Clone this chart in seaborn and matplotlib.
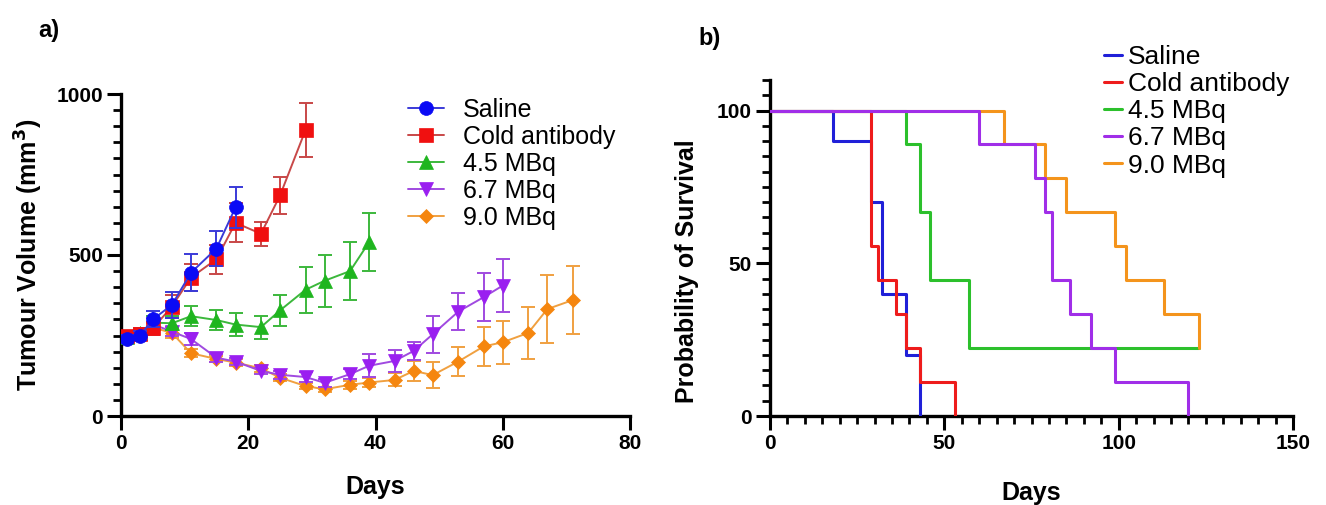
"""
plot.py - Tumour growth and survival after radioimmunotherapy

a) mean tumour volume (+/- SEM) per treatment group
b) Kaplan-Meier survival curves per treatment group
"""

import matplotlib
matplotlib.use("Agg")
import matplotlib.pyplot as plt
from matplotlib.ticker import MultipleLocator
import pandas as pd
import seaborn as sns

# --- Data ---
groups = ["Saline", "Cold antibody", "4.5 MBq", "6.7 MBq", "9.0 MBq"]

# a) tumour volume, mm^3
saline_days = [1, 3, 5, 8, 11, 15, 18]
saline_vol = [240, 250, 300, 345, 445, 520, 648]
saline_sem = [12, 15, 25, 40, 58, 55, 64]

cold_days = [1, 3, 5, 8, 11, 15, 18, 22, 25, 29]
cold_vol = [250, 255, 272, 340, 430, 487, 600, 566, 685, 888]
cold_sem = [12, 18, 20, 35, 42, 45, 60, 38, 58, 85]

mbq45_days = [1, 3, 5, 8, 11, 15, 18, 22, 25, 29, 32, 36, 39]
mbq45_vol = [245, 258, 290, 288, 310, 298, 284, 276, 328, 392, 420, 450, 540]
mbq45_sem = [12, 15, 20, 22, 32, 31, 35, 36, 47, 72, 80, 90, 90]

mbq67_days = [1, 3, 5, 8, 11, 15, 18, 22, 25, 29, 32, 36, 39, 43, 46, 49, 53, 57, 60]
mbq67_vol = [245, 255, 285, 262, 239, 181, 169, 140, 128, 121, 103, 130, 156,
             171, 202, 254, 324, 369, 405]
mbq67_sem = [10, 15, 20, 15, 18, 12, 10, 10, 12, 15, 12, 15, 36, 35, 28, 57, 58, 75, 83]

mbq90_days = [1, 3, 5, 8, 11, 15, 18, 22, 25, 29, 32, 36, 39, 43, 46, 49, 53,
              57, 60, 64, 67, 71]
mbq90_vol = [240, 248, 275, 258, 195, 177, 166, 148, 119, 93, 83, 97, 104, 112,
             140, 127, 169, 216, 229, 258, 332, 360]
mbq90_sem = [10, 12, 15, 15, 12, 10, 10, 10, 10, 10, 8, 12, 15, 20, 30, 40, 45,
             60, 67, 80, 105, 105]

# b) survival, percent
saline_t = [0, 18, 29, 32, 39, 43]
saline_surv = [100, 90, 70, 40, 20, 0]
cold_t = [0, 29, 31, 36, 39, 43, 53]
cold_surv = [100, 55.6, 44.4, 33.3, 22.2, 11.1, 0]
mbq45_t = [0, 39, 43, 46, 57, 123]
mbq45_surv = [100, 88.9, 66.7, 44.4, 22.2, 22.2]
mbq67_t = [0, 60, 76, 79, 81, 86, 92, 99, 120]
mbq67_surv = [100, 88.9, 77.8, 66.7, 44.4, 33.3, 22.2, 11.1, 0]
mbq90_t = [0, 67, 79, 85, 99, 102, 113, 123]
mbq90_surv = [100, 88.9, 77.8, 66.7, 55.6, 44.4, 33.3, 22.2]

# --- Styling ---
marker_colors = ["#0a0af5", "#f01010", "#1fb51f", "#9a1ff0", "#f5860f"]
line_colors = ["#3a3ad8", "#c84848", "#3cb83c", "#a04ae0", "#f0a040"]
step_colors = ["#2020d8", "#ee1c1c", "#2cc02c", "#a02ee8", "#f4941c"]
markers = ["o", "s", "^", "v", "D"]
marker_sizes = [10, 10, 10, 10, 7]

sns.set_theme(style="ticks")
plt.rcParams["font.family"] = ["Liberation Sans", "DejaVu Sans"]
plt.rcParams["text.color"] = "black"
plt.rcParams["axes.labelcolor"] = "black"

W, H = 1326, 505
fig = plt.figure(figsize=(W / 100, H / 100), dpi=100)
ax1 = fig.add_axes([121 / W, 1 - 416 / H, 509 / W, (416 - 94) / H])
ax2 = fig.add_axes([770 / W, 1 - 416 / H, 523 / W, (416 - 80) / H])

# --- Panel a: tumour volume ---
vol_sets = [
    (saline_days, saline_vol, saline_sem),
    (cold_days, cold_vol, cold_sem),
    (mbq45_days, mbq45_vol, mbq45_sem),
    (mbq67_days, mbq67_vol, mbq67_sem),
    (mbq90_days, mbq90_vol, mbq90_sem),
]
for i, (name, (d, v, e)) in enumerate(zip(groups, vol_sets)):
    z = 10 - i
    ax1.errorbar(d, v, yerr=e, fmt="none", ecolor=line_colors[i], elinewidth=1.4,
                 capsize=5, capthick=1.4, zorder=z)
    sns.lineplot(x=d, y=v, ax=ax1, color=line_colors[i], lw=1.4, marker=markers[i],
                 markersize=marker_sizes[i], markerfacecolor=marker_colors[i],
                 markeredgecolor=marker_colors[i], markeredgewidth=0.5,
                 label=name, zorder=z + 0.5)

ax1.set_xlim(0, 80)
ax1.set_ylim(0, 1000)
ax1.xaxis.set_major_locator(MultipleLocator(20))
ax1.yaxis.set_major_locator(MultipleLocator(500))
ax1.yaxis.set_minor_locator(MultipleLocator(50))
ax1.set_xlabel("Days", fontsize=18, fontweight="bold", labelpad=16)
ax1.set_ylabel("Tumour Volume (mm$^\\mathbf{3}$)", fontsize=18, fontweight="bold",
               labelpad=8)
ax1.legend(loc="upper left", bbox_to_anchor=(408 / W, 1 - 98 / H),
           bbox_transform=fig.transFigure, frameon=False, fontsize=18,
           handlelength=1.45, handletextpad=0.75, labelspacing=0.12,
           borderpad=0, borderaxespad=0)

# --- Panel b: survival ---
surv_sets = [
    (saline_t, saline_surv),
    (cold_t, cold_surv),
    (mbq45_t, mbq45_surv),
    (mbq67_t, mbq67_surv),
    (mbq90_t, mbq90_surv),
]
surv_df = pd.concat(
    [pd.DataFrame({"day": t, "surv": s, "group": name})
     for name, (t, s) in zip(groups, surv_sets)],
    ignore_index=True,
)
draw_order = [0, 1, 2, 4, 3]
for i in draw_order:
    sub = surv_df[surv_df["group"] == groups[i]]
    sns.lineplot(data=sub, x="day", y="surv", ax=ax2, color=step_colors[i],
                 lw=2.2, drawstyle="steps-post", estimator=None, sort=False,
                 label=groups[i], zorder=5 + draw_order.index(i))

ax2.set_xlim(0, 150)
ax2.set_ylim(0, 110)
ax2.xaxis.set_major_locator(MultipleLocator(50))
ax2.xaxis.set_minor_locator(MultipleLocator(5))
ax2.yaxis.set_major_locator(MultipleLocator(50))
ax2.yaxis.set_minor_locator(MultipleLocator(5))
ax2.set_xlabel("Days", fontsize=18, fontweight="bold", labelpad=20)
ax2.set_ylabel("Probability of Survival", fontsize=18, fontweight="bold")
ax2.yaxis.set_label_coords(-0.135, 0.43)

handles, labels = ax2.get_legend_handles_labels()
order = [labels.index(g) for g in groups]
ax2.legend([handles[k] for k in order], [labels[k] for k in order],
           loc="upper left", bbox_to_anchor=(1104 / W, 1 - 45 / H),
           bbox_transform=fig.transFigure, frameon=False, fontsize=19,
           handlelength=0.7, handletextpad=0.22, labelspacing=0.12,
           borderpad=0, borderaxespad=0)

for ax in (ax1, ax2):
    sns.despine(ax=ax)
    for side in ("left", "bottom"):
        ax.spines[side].set_linewidth(2.4)
        ax.spines[side].set_color("black")
    ax.tick_params(which="major", length=10, width=2.2, labelsize=15, pad=3,
                   colors="black")
    ax.tick_params(which="minor", length=6, width=2.0, colors="black")
    for lbl in ax.get_xticklabels() + ax.get_yticklabels():
        lbl.set_fontweight("bold")
    ax.set_facecolor("white")

fig.text(38 / W, 1 - 30 / H, "a)", fontsize=17, fontweight="bold", va="center")
fig.text(698 / W, 1 - 38 / H, "b)", fontsize=17, fontweight="bold", va="center")

fig.savefig("out.png", dpi=100, facecolor="white")
